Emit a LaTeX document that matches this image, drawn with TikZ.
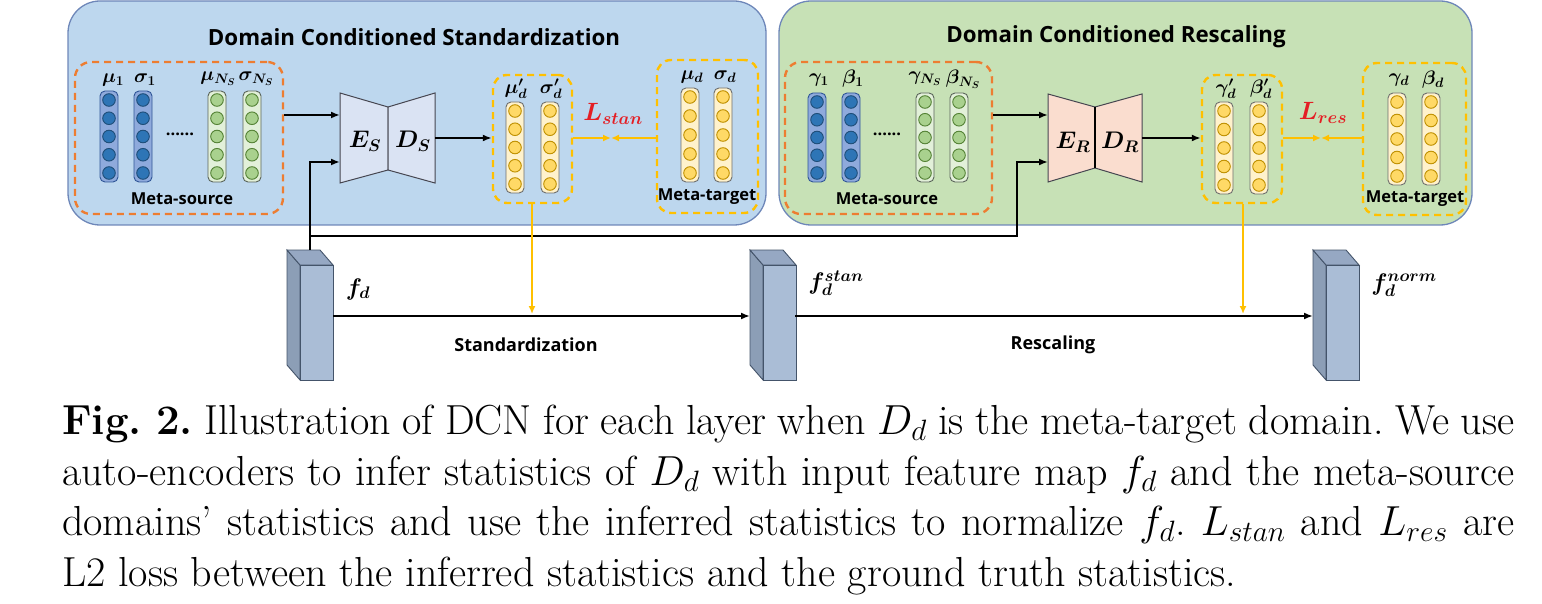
\RequirePackage{fix-cm}
\documentclass[tikz,border=0pt]{standalone}
\usepackage{fontspec}
\usepackage{bm}
\newfontfamily\lab{Open Sans}
\usetikzlibrary{arrows.meta}
\definecolor{panelblue}{RGB}{189,215,238}
\definecolor{panelgreen}{RGB}{199,225,182}
\definecolor{panelborder}{RGB}{110,135,185}
\definecolor{orangeD}{RGB}{237,125,49}
\definecolor{goldD}{RGB}{255,192,0}
\definecolor{colBfill}{RGB}{143,170,220}
\definecolor{colBdraw}{RGB}{47,85,151}
\definecolor{circBfill}{RGB}{46,117,182}
\definecolor{circBdraw}{RGB}{31,78,121}
\definecolor{colGfill}{RGB}{226,240,217}
\definecolor{colGdraw}{RGB}{90,100,90}
\definecolor{circGfill}{RGB}{169,209,142}
\definecolor{circGdraw}{RGB}{84,130,53}
\definecolor{colYfill}{RGB}{255,242,204}
\definecolor{colYdraw}{RGB}{110,110,110}
\definecolor{circYfill}{RGB}{255,217,102}
\definecolor{circYdraw}{RGB}{191,144,0}
\definecolor{encS}{RGB}{218,227,243}
\definecolor{encR}{RGB}{250,221,207}
\definecolor{encdraw}{RGB}{70,70,80}
\definecolor{blkfront}{RGB}{170,189,214}
\definecolor{blkside}{RGB}{140,158,182}
\definecolor{blktop}{RGB}{150,168,195}
\definecolor{blkdraw}{RGB}{68,84,106}
\definecolor{lossred}{RGB}{228,30,36}
\tikzset{
  panel/.style={draw=panelborder, line width=1.3pt, rounded corners=32pt},
  msbox/.style={draw=orangeD, line width=2.4pt, dash pattern=on 7pt off 5pt, rounded corners=16pt, inner sep=0pt},
  gbox/.style={draw=goldD, line width=2.4pt, dash pattern=on 7pt off 5pt, rounded corners=14pt, inner sep=0pt},
  colbase/.style={rounded corners=5pt, line width=0.9pt, minimum width=18pt, inner sep=0pt},
  colB/.style={colbase, fill=colBfill, draw=colBdraw},
  colG/.style={colbase, fill=colGfill, draw=colGdraw},
  colY/.style={colbase, fill=colYfill, draw=colYdraw},
  circbase/.style={circle, inner sep=0pt, minimum size=12.6pt, line width=0.9pt},
  circB/.style={circbase, fill=circBfill, draw=circBdraw},
  circG/.style={circbase, fill=circGfill, draw=circGdraw},
  circY/.style={circbase, fill=circYfill, draw=circYdraw},
  title/.style={font=\lab\bfseries\fontsize{22.3}{26}\selectfont, inner sep=0pt},
  small/.style={font=\lab\bfseries\fontsize{16.5}{20}\selectfont, inner sep=0pt},
  sym/.style={font=\fontsize{19.5}{24}\selectfont, inner sep=0pt},
  big/.style={font=\fontsize{24}{28}\selectfont, inner sep=0pt},
  conn/.style={line width=2pt, -{Latex[length=9pt,width=7pt]}},
  plain/.style={line width=2pt},
  gconn/.style={draw=goldD, line width=2pt, -{Latex[length=8pt,width=7pt]}},
  blockfront/.style={fill=blkfront, draw=blkdraw, line width=0.9pt, minimum width=33pt, minimum height=115pt, inner sep=0pt, anchor=north west},
}
\newcommand\statcol[5]{%
  \node[col#5, minimum height={#4-#3}] (#1) at (#2,{(#3+#4)/2}) {};
  \foreach \i in {1,...,5} \node[circ#5] (#1c\i) at (#2,{#3+9+(\i-1)*(#4-#3-18)/4}) {};
}
\newcommand\featblock[2]{%
  \filldraw[fill=blkside, draw=blkdraw, line width=0.9pt] (#2,250) -- ({#2+13},265) -- ({#2+13},380) -- (#2,365) -- cycle;
  \filldraw[fill=blktop, draw=blkdraw, line width=0.9pt] (#2,250) -- ({#2+33},250) -- ({#2+46},265) -- ({#2+13},265) -- cycle;
  \node[blockfront] (#1) at ({#2+13},265) {};
}
\begin{document}
\begin{tikzpicture}[x=1pt,y=-1pt]
\useasboundingbox (0,0) rectangle (1542,604);
% panels
\draw[panel, fill=panelblue] (68,1) rectangle (766,225);
\draw[panel, fill=panelgreen] (779,1) rectangle (1472,225);
\node[title] (titleS) at (414,37) {Domain Conditioned Standardization};
\node[title] (titleR) at (1116,37) {Domain Conditioned Rescaling};

% ---------- standardization panel
\node[msbox, minimum width=208pt, minimum height=152pt] (msS) at (179,138) {};
\statcol{sA}{109}{91}{182}{B}
\statcol{sB}{143}{91}{182}{B}
\statcol{sC}{217}{91}{182}{G}
\statcol{sD}{252}{91}{182}{G}
\node[sym] (lmu1) at (113,80) {$\bm{\mu_1}$};
\node[sym] (lsig1) at (145,80) {$\bm{\sigma_1}$};
\node[sym] (lmuN) at (218,79) {$\bm{\mu_{N_S}}$};
\node[sym] (lsigN) at (256,79) {$\bm{\sigma_{N_S}}$};
\node[small] (dotsS) at (180,134) {......};
\node[small] (msSlab) at (182,199) {Meta-source};

\coordinate (ESa) at (340,93); \coordinate (ESb) at (388,107);
\coordinate (ESc) at (388,170); \coordinate (ESd) at (340,183);
\coordinate (DSa) at (435,93); \coordinate (DSd) at (435,183);
\filldraw[fill=encS, draw=encdraw, line width=1pt] (ESa) -- (ESb) -- (ESc) -- (ESd) -- cycle;
\filldraw[fill=encS, draw=encdraw, line width=1pt] (ESb) -- (DSa) -- (DSd) -- (ESc) -- cycle;
\node[big] (ES) at (365,141) {$\bm{E_S}$};
\node[big] (DS) at (413,141) {$\bm{D_S}$};
\coordinate (ESin1) at (340,115);
\coordinate (ESin2) at (340,162);
\coordinate (DSout) at (435,138);

\node[gbox, minimum width=79pt, minimum height=128pt] (estS) at (532.5,139) {};
\statcol{eA}{515}{102}{193}{Y}
\statcol{eB}{550}{102}{193}{Y}
\node[sym] (lmud) at (516,89) {$\bm{\mu'_d}$};
\node[sym] (lsigd) at (551,89) {$\bm{\sigma'_d}$};

\node[gbox, minimum width=101pt, minimum height=153pt] (mtS) at (707.5,136.5) {};
\statcol{tA}{690}{88}{182}{Y}
\statcol{tB}{723}{88}{182}{Y}
\node[sym] (lmut) at (692,77) {$\bm{\mu_d}$};
\node[sym] (lsigt) at (725,77) {$\bm{\sigma_d}$};
\node[small] (mtSlab) at (707,197) {Meta-target};

\node[font=\fontsize{25}{30}\selectfont, text=lossred, inner sep=0pt] (Lstan) at (613,114) {$\bm{L_{stan}}$};
\coordinate (meetS) at (611,138);

% ---------- rescaling panel
\node[msbox, minimum width=207pt, minimum height=152pt] (msR) at (888.5,138) {};
\statcol{rA}{817}{93}{182}{B}
\statcol{rB}{851}{93}{182}{B}
\statcol{rC}{925}{93}{182}{G}
\statcol{rD}{959}{93}{182}{G}
\node[sym] (lgam1) at (819,80) {$\bm{\gamma_1}$};
\node[sym] (lbet1) at (853,79) {$\bm{\beta_1}$};
\node[sym] (lgamN) at (925,79) {$\bm{\gamma_{N_S}}$};
\node[sym] (lbetN) at (963,79) {$\bm{\beta_{N_S}}$};
\node[small] (dotsR) at (887,134) {......};
\node[small] (msRlab) at (887,199) {Meta-source};

\coordinate (ERa) at (1048,94); \coordinate (ERb) at (1095,107);
\coordinate (ERc) at (1095,168); \coordinate (ERd) at (1048,182);
\coordinate (DRa) at (1142,94); \coordinate (DRd) at (1142,182);
\filldraw[fill=encR, draw=encdraw, line width=1pt] (ERa) -- (ERb) -- (ERc) -- (ERd) -- cycle;
\filldraw[fill=encR, draw=encdraw, line width=1pt] (ERb) -- (DRa) -- (DRd) -- (ERc) -- cycle;
\draw[line width=2pt] (ERb) -- (ERc);
\node[big] (ER) at (1073,142) {$\bm{E_R}$};
\node[big] (DR) at (1120,142) {$\bm{D_R}$};
\coordinate (ERin1) at (1048,115);
\coordinate (ERin2) at (1048,162);
\coordinate (DRout) at (1142,138);

\node[gbox, minimum width=80pt, minimum height=128pt] (estR) at (1242,139) {};
\statcol{fA}{1224}{102}{194}{Y}
\statcol{fB}{1259}{102}{194}{Y}
\node[sym] (lgamd) at (1226,89) {$\bm{\gamma'_d}$};
\node[sym] (lbetd) at (1261,89) {$\bm{\beta'_d}$};

\node[gbox, minimum width=103pt, minimum height=152pt] (mtR) at (1414.5,139) {};
\statcol{gA}{1397}{93}{185}{Y}
\statcol{gB}{1431}{93}{185}{Y}
\node[sym] (lgamt) at (1399,80) {$\bm{\gamma_d}$};
\node[sym] (lbett) at (1433,80) {$\bm{\beta_d}$};
\node[small] (mtRlab) at (1415,199) {Meta-target};

\node[font=\fontsize{25}{30}\selectfont, text=lossred, inner sep=0pt] (Lres) at (1323,113) {$\bm{L_{res}}$};
\coordinate (meetR) at (1321,138);

% ---------- feature blocks
\featblock{fd}{287}
\featblock{fstan}{750}
\featblock{fnorm}{1313}
\node[big] (lfd) at (358,289) {$\bm{f_d}$};
\node[big] (lfstan) at (836,283) {$\bm{f_d^{stan}}$};
\node[big] (lfnorm) at (1404,285) {$\bm{f_d^{norm}}$};
\node[font=\lab\bfseries\fontsize{18}{22}\selectfont, inner sep=0pt] (lstd) at (526,345) {Standardization};
\node[font=\lab\bfseries\fontsize{18}{22}\selectfont, inner sep=0pt] (lres) at (1053,345) {Rescaling};

% ---------- connectors
\draw[conn] (msS.east |- ESin1) -- (ESin1);
\draw[conn] (DSout) -- (estS.west |- DSout);
\draw[conn] (msR.east |- ERin1) -- (ERin1);
\draw[conn] (DRout) -- (estR.west |- DRout);

\coordinate (fdtop) at (310,250);
\coordinate (split) at (310,236);
\coordinate (turnR) at (1017,236);
\draw[plain] (fdtop) -- (split);
\draw[conn] (split) |- (ESin2);
\draw[conn] (split) -- (turnR) |- (ERin2);

\coordinate (mainS) at (333,316);
\coordinate (mainS2) at (795,316);
\draw[conn] (mainS) -- (mainS -| 750,0);
\draw[conn] (mainS2) -- (mainS2 -| 1313,0);

\draw[gconn] (estS.east |- meetS) -- (meetS);
\draw[gconn] (mtS.west |- meetS) -- (meetS);
\draw[gconn] (estR.east |- meetR) -- (meetR);
\draw[gconn] (mtR.west |- meetR) -- (meetR);
\coordinate (ystd) at (532,314);
\coordinate (yres) at (1243,314);
\draw[gconn] (estS.south -| ystd) -- (ystd);
\draw[gconn] (estR.south -| yres) -- (yres);

% ---------- caption
\node[anchor=north west, text width=1452pt, inner sep=0pt, align=justify,
      font=\fontsize{42}{50.5}\selectfont] (cap) at (62,405)
 {\frenchspacing\textbf{Fig.~2.} Illustration of DCN for each layer when $D_d$ is the meta-target domain. We use\linebreak
  auto-encoders to infer statistics of $D_d$ with input feature map $f_d$ and the meta-source\linebreak
  domains' statistics and use the inferred statistics to normalize $f_d$. $L_{stan}$ and $L_{res}$ are\linebreak
  L2 loss between the inferred statistics and the ground truth statistics.};
\end{tikzpicture}
\end{document}
